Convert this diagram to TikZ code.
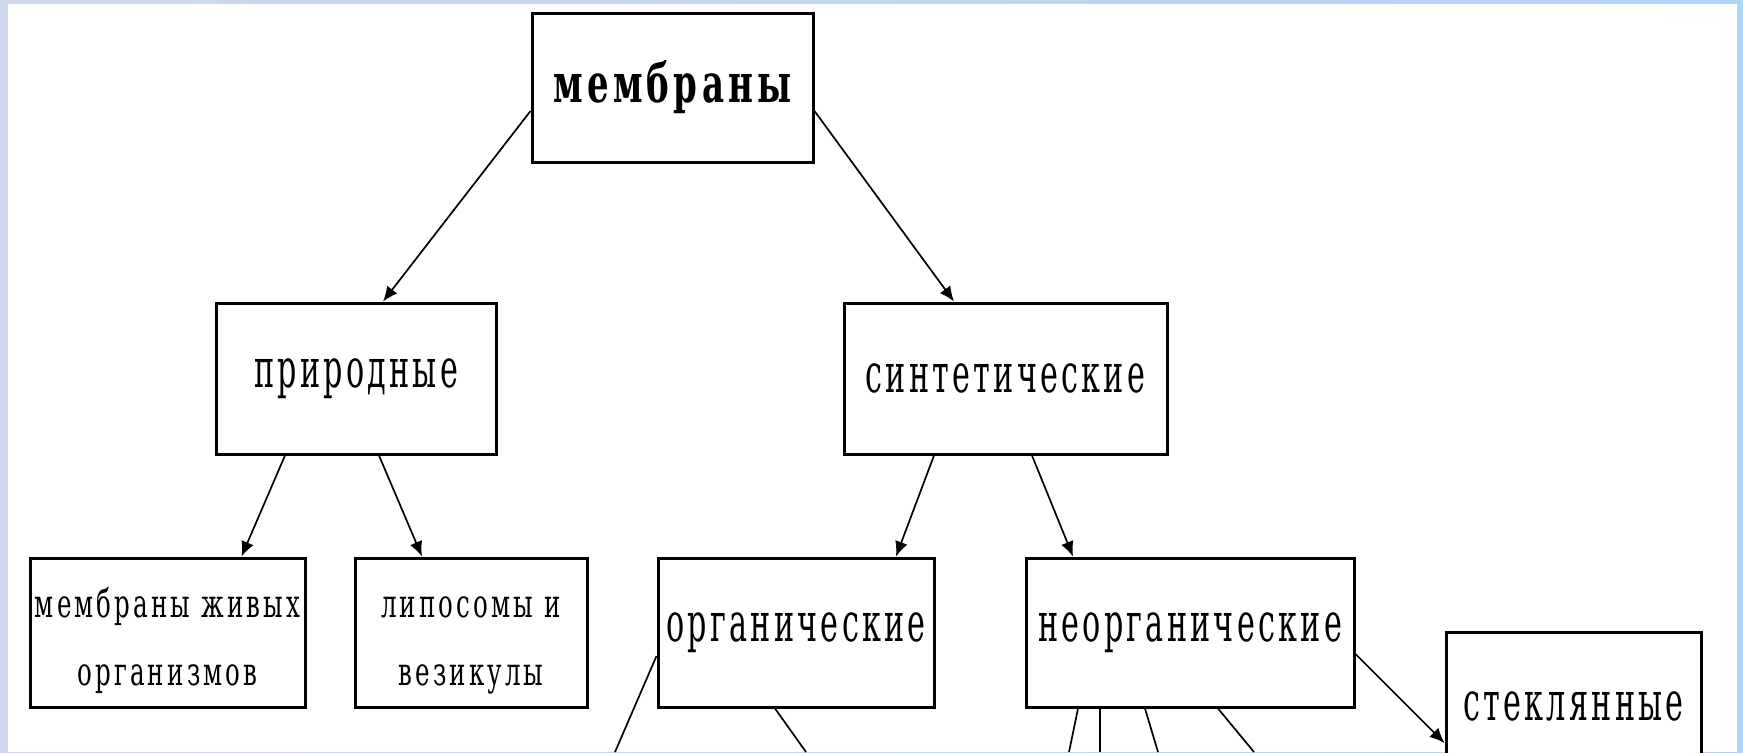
\documentclass[tikz,border=0pt]{standalone}
\usepackage{fontspec}
\usetikzlibrary{arrows.meta}
\newfontfamily\serifcond[FakeStretch=0.56,LetterSpace=6]{DejaVu Serif}
\newfontfamily\serifleaf[FakeStretch=0.63,LetterSpace=8]{DejaVu Serif}
\newfontfamily\seriftitle[FakeStretch=0.63,LetterSpace=8]{DejaVu Serif}
\def\boxtext{\serifcond\fontsize{27}{32}\selectfont}
\def\leaftext{\serifleaf\fontsize{19.5}{34}\selectfont}
\def\titletext{\seriftitle\bfseries\fontsize{27}{30}\selectfont}
\definecolor{edgelav}{RGB}{208,216,238}
\definecolor{edgeblue}{RGB}{125,188,250}
\definecolor{edgesky}{RGB}{176,212,248}
\tikzset{
  box/.style={draw, line width=1.5pt, inner sep=0pt, fill=white, font=\boxtext},
  leaf/.style={box, align=center, font=\leaftext, text height=57.5pt},
  link/.style={line width=0.85pt, -{Latex[length=7.5pt,width=6.5pt]}},
  cut/.style={line width=0.85pt}
}

\begin{document}
\begin{tikzpicture}[x=0.5pt,y=-0.5pt]
    \useasboundingbox (0,0) rectangle (1743,752);
    \clip (0,0) rectangle (1743,752);
    \shade[left color=edgelav, middle color=edgeblue, right color=edgesky] (0,0) rectangle (1743,752);
    \fill[white] (8,4) rectangle (1737,752);

    \node[box, minimum width=140.5pt, minimum height=74.5pt, font=\titletext] (memb) at (672.5,87.5) {мембраны};
    \node[box, minimum width=140pt, minimum height=75.5pt] (nat) at (356,378.5) {природные};
    \node[box, minimum width=161.5pt, minimum height=75.5pt] (syn) at (1005.5,378.5) {синтетические};
    \node[leaf, minimum width=137.5pt, minimum height=74.5pt] (live) at (167.5,632.5) {мембраны живых\\организмов};
    \node[leaf, minimum width=116pt, minimum height=74.5pt] (lip) at (471,632.5) {липосомы и\\везикулы};
    \node[box, minimum width=138pt, minimum height=74.5pt] (org) at (796,632.5) {органические};
    \node[box, minimum width=164pt, minimum height=74.5pt] (inorg) at (1190,632.5) {неорганические};
    \node[box, minimum width=127.5pt, minimum height=74pt] (glass) at (1573.5,706) {стеклянные};

    \draw[link] ([yshift=-11.75pt]memb.west) -- ([xshift=13.5pt]nat.north);
    \draw[link] ([yshift=-11.75pt]memb.east) -- ([xshift=-25.75pt]syn.north);
    \draw[link] ([xshift=-35.5pt]nat.south) -- ([xshift=37pt]live.north);
    \draw[link] ([xshift=11.5pt]nat.south) -- ([xshift=-24.5pt]lip.north);
    \draw[link] ([xshift=-35.75pt]syn.south) -- ([xshift=50pt]org.north);
    \draw[link] ([xshift=13.25pt]syn.south) -- ([xshift=-58.5pt]inorg.north);
    \draw[link] ([yshift=-10.75pt]inorg.east) -- ([yshift=-18.5pt]glass.west);

    \coordinate (o1) at (615,752);
    \coordinate (o2) at (806,752);
    \coordinate (n1) at (1069,752);
    \coordinate (n2) at (1100,752);
    \coordinate (n3) at (1158,752);
    \coordinate (n4) at (1254,752);
    \draw[cut] ([yshift=-11.75pt]org.west) -- (o1);
    \draw[cut] ([xshift=-10.5pt]org.south) -- (o2);
    \draw[cut] ([xshift=-56pt]inorg.south) -- (n1);
    \draw[cut] ([xshift=-45pt]inorg.south) -- (n2);
    \draw[cut] ([xshift=-22.5pt]inorg.south) -- (n3);
    \draw[cut] ([xshift=14pt]inorg.south) -- (n4);
\end{tikzpicture}
\end{document}
